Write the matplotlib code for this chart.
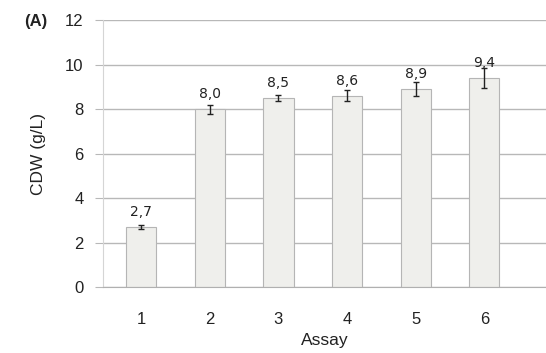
import matplotlib
matplotlib.use("Agg")
import matplotlib.pyplot as plt
import numpy as np

assays = ["1", "2", "3", "4", "5", "6"]
cdw = [2.7, 8.0, 8.5, 8.6, 8.9, 9.4]
cdw_err = [0.1, 0.2, 0.15, 0.25, 0.3, 0.45]
labels = ["2,7", "8,0", "8,5", "8,6", "8,9", "9,4"]

plt.rcParams['font.family'] = ['Liberation Sans', 'DejaVu Sans']

fig = plt.figure(figsize=(5.46, 3.53), dpi=100)
ax = fig.add_axes([0.189, 0.187, 0.811, 0.756])

x = np.arange(1, len(assays) + 1)
ax.bar(x, cdw, width=0.44, color='#efefec', edgecolor='#b5b5b5', linewidth=0.8, zorder=2)
ax.errorbar(x, cdw, yerr=cdw_err, fmt='none', ecolor='#222222', elinewidth=1.0,
            capsize=2.5, capthick=1.0, zorder=3)

# value labels sit just above the bar top
for xi, v, lab in zip(x, cdw, labels):
    ax.text(xi, v + 0.35, lab, ha='center', va='bottom', fontsize=10,
            family='DejaVu Sans', color='#222222', zorder=4)

ax.set_xlim(0.446, 6.9)
ax.set_ylim(0, 12)
ax.set_yticks(np.arange(0, 13, 2))
ax.set_xticks(x, labels=assays)
ax.yaxis.grid(True, color='#b8b8b8', linewidth=1.0, zorder=0)
ax.set_axisbelow(True)

for s in ['top', 'right']:
    ax.spines[s].set_visible(False)
ax.spines['left'].set_color('#d5d5d5')
ax.spines['bottom'].set_color('#b0b0b0')
ax.tick_params(axis='y', length=6, color='#b8b8b8', labelsize=12, pad=8, labelcolor='#222222')
ax.tick_params(axis='x', length=0, labelsize=12, pad=18, labelcolor='#222222')

ax.set_ylabel("CDW (g/L)", fontsize=12.5, color='#222222', labelpad=14)
ax.set_xlabel("Assay", fontsize=12.5, color='#222222', labelpad=4)

fig.text(0.045, 0.94, "(A)", fontsize=12, fontweight='bold', color='#222222',
         va='center', ha='left')

fig.savefig("out.png", dpi=100)
